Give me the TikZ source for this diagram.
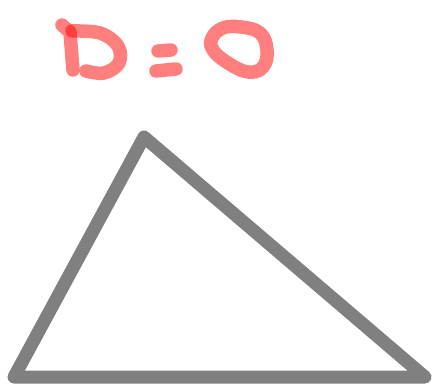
\documentclass[tikz,border=0pt]{standalone}
\begin{document}
\begin{tikzpicture}[x=1pt,y=-1pt,
  ink/.style={draw=red,draw opacity=0.5,line width=13.5pt,line cap=round,line join=round},
  grayline/.style={draw=black!50,line width=13pt,line cap=round,line join=round}]
\useasboundingbox[fill=white] (0,0) rectangle (436,391);
% triangle
\coordinate (A) at (144,137);
\coordinate (B) at (14,377);
\coordinate (C) at (425,377);
\draw[grayline] (A) -- (B) -- (C) -- cycle;
% D
\draw[ink] (62,25) -- (70,32) .. controls (71,45) and (72,58) .. (73,70);
\draw[ink] plot[smooth,tension=0.6] coordinates {(72,31) (100,33) (118,46) (119,63) (104,73) (86,71)};
% =
\draw[ink] (158,51) -- (171,50);
\draw[ink] (156,71) -- (176,69);
% O
\draw[ink] plot[smooth cycle,tension=0.7] coordinates {(212,38) (223,28) (241,27) (260,33) (267,50) (263,67) (248,72) (228,63) (213,50)};
\end{tikzpicture}
\end{document}
